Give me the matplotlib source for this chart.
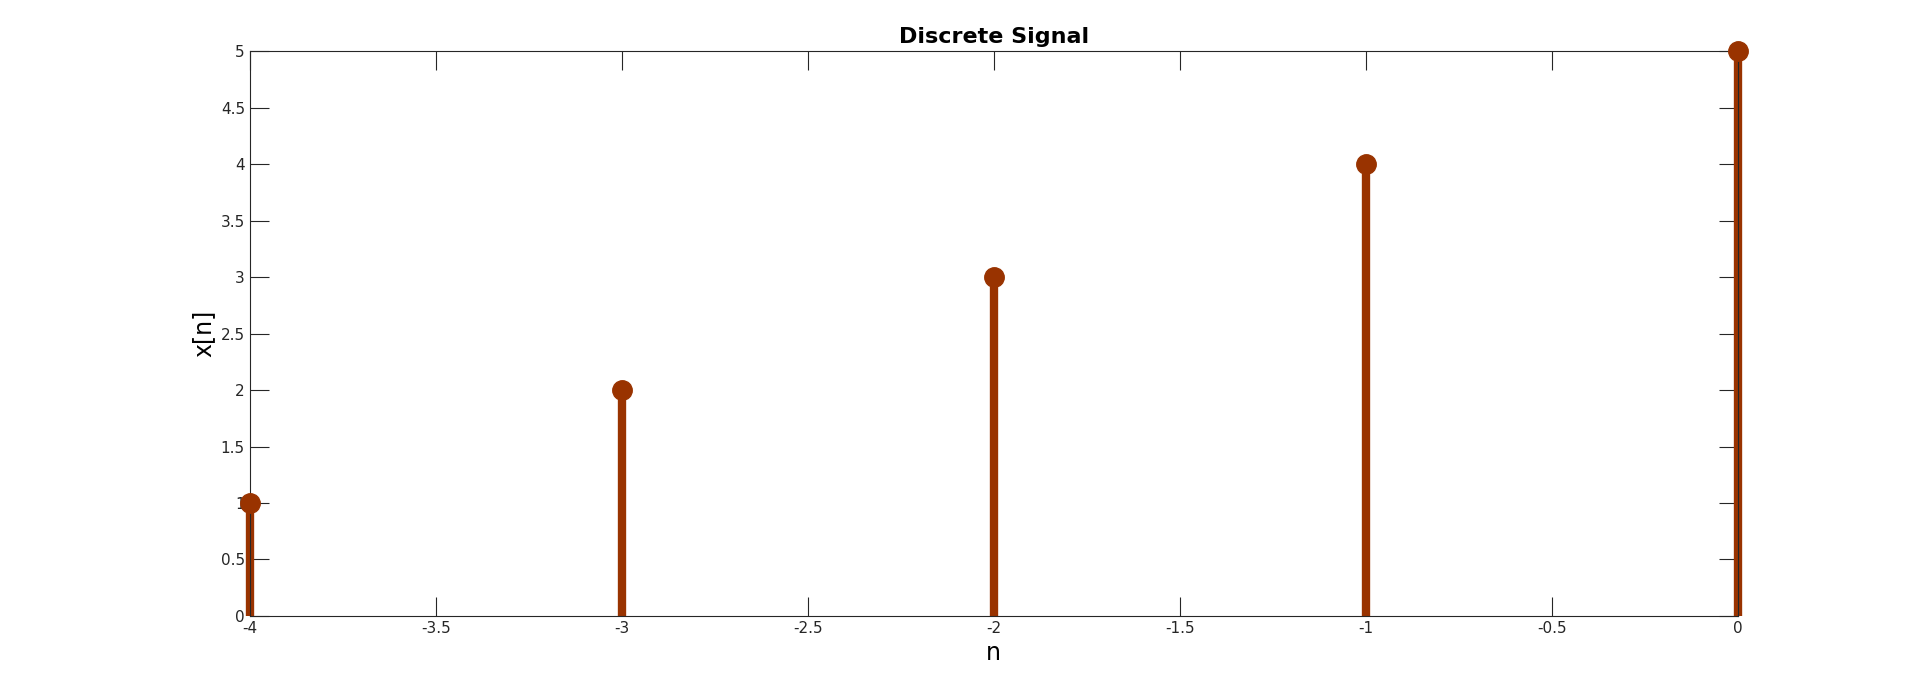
import matplotlib
matplotlib.use('Agg')
import matplotlib.pyplot as plt

n = [-4, -3, -2, -1, 0]
x = [1, 2, 3, 4, 5]
x_ticks = [-4, -3.5, -3, -2.5, -2, -1.5, -1, -0.5, 0]
y_ticks = [0, 0.5, 1, 1.5, 2, 2.5, 3, 3.5, 4, 4.5, 5]
color = '#993300'

W, H = 1568, 566  # reference viewed size
fig = plt.figure(figsize=(19.2, 6.93), dpi=100)
ax = fig.add_axes([204 / W, 1 - 503 / H, (1419 - 204) / W, (503 - 42) / H])

markers, stems, base = ax.stem(n, x)
plt.setp(stems, color=color, linewidth=6, clip_on=False)
plt.setp(markers, color=color, markersize=14, clip_on=False, zorder=5)
base.set_visible(False)

ax.set_xlim(-4, 0)
ax.set_ylim(0, 5)
ax.set_xticks(x_ticks)
ax.set_xticklabels([f'{t:g}' for t in x_ticks])
ax.set_yticks(y_ticks)
ax.set_yticklabels([f'{t:g}' for t in y_ticks])
ax.tick_params(direction='in', length=14, top=True, right=True, labelsize=11, colors='#262626')
for s in ax.spines.values():
    s.set_color('#262626')
    s.set_linewidth(0.8)

ax.set_title('Discrete Signal', fontsize=16, fontweight='bold', pad=6)
ax.set_xlabel('n', fontsize=17)
ax.set_ylabel('x[n]', fontsize=17)

fig.savefig('out.png', dpi=100)
